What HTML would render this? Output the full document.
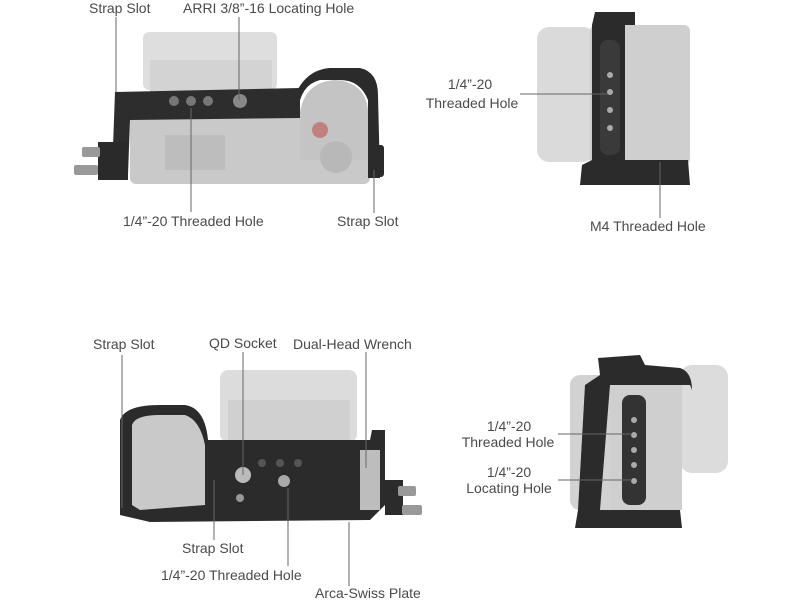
<!DOCTYPE html>
<html><head><style>
html,body{margin:0;padding:0;background:#fff;}
svg text{font-family:"Liberation Sans",sans-serif;font-size:14px;fill:#4a4a4a;}
</style></head><body>
<svg width="800" height="600" xmlns="http://www.w3.org/2000/svg">
<rect width="800" height="600" fill="#fff"/>
<!-- TOP LEFT -->
<rect x="143" y="32" width="134" height="58" rx="6" fill="#dedede"/>
<rect x="150" y="60" width="122" height="35" fill="#d3d3d3"/>
<rect x="130" y="112" width="240" height="72" rx="6" fill="#c9c9c9"/>
<path d="M290 110 Q300 70 330 68 L360 68 Q378 72 378 95 L380 178 L368 178 L368 100 Q360 80 340 80 L320 80 Q300 85 298 112 Z" fill="#2b2b2b"/>
<path d="M300 112 Q305 82 335 80 Q365 82 368 110 L368 160 L300 160Z" fill="#c4c4c4"/>
<path d="M115 92 L300 88 L300 118 L130 120 L128 175 L112 175 Z" fill="#2d2d2d"/>
<circle cx="174" cy="101" r="5" fill="#777"/><circle cx="191" cy="101" r="5" fill="#777"/><circle cx="208" cy="101" r="5" fill="#777"/><circle cx="240" cy="101" r="7" fill="#888"/>
<rect x="98" y="142" width="30" height="38" fill="#2a2a2a"/>
<rect x="82" y="147" width="18" height="10" rx="2" fill="#999"/><rect x="74" y="165" width="24" height="10" rx="2" fill="#999"/>
<rect x="165" y="135" width="60" height="35" fill="#bdbdbd"/>
<circle cx="336" cy="157" r="16" fill="#b8b8b8"/><circle cx="320" cy="130" r="8" fill="#c08080"/>
<rect x="370" y="145" width="14" height="32" rx="3" fill="#2b2b2b"/>
<!-- TOP RIGHT -->
<rect x="537" y="27" width="58" height="135" rx="12" fill="#dadada"/>
<rect x="590" y="25" width="100" height="140" rx="6" fill="#cfcfcf"/>
<path d="M595 12 L635 12 L635 25 L625 25 L625 160 L688 160 L690 185 L580 185 L582 165 L592 160 L592 25 Z" fill="#2b2b2b"/>
<rect x="600" y="40" width="20" height="115" rx="8" fill="#3a3a3a"/>
<circle cx="610" cy="75" r="3" fill="#aaa"/><circle cx="610" cy="92" r="3" fill="#aaa"/><circle cx="610" cy="110" r="3" fill="#aaa"/><circle cx="610" cy="128" r="3" fill="#aaa"/>
<!-- BOTTOM LEFT -->
<rect x="220" y="370" width="137" height="72" rx="8" fill="#dcdcdc"/>
<rect x="228" y="400" width="122" height="40" fill="#d0d0d0"/>
<path d="M120 420 Q125 405 160 405 L185 405 Q205 408 208 440 L370 440 L372 430 L385 430 L385 505 L370 520 L150 522 L120 515 Z" fill="#2b2b2b"/>
<path d="M132 425 Q135 415 160 415 L185 415 Q200 420 205 445 L205 505 L140 510 L132 505 Z" fill="#c9c9c9"/>
<rect x="360" y="450" width="20" height="60" fill="#bdbdbd"/>
<circle cx="243" cy="475" r="8" fill="#bbb"/><circle cx="284" cy="481" r="6" fill="#aaa"/><circle cx="240" cy="498" r="4" fill="#999"/>
<circle cx="262" cy="463" r="4" fill="#555"/><circle cx="280" cy="463" r="4" fill="#555"/><circle cx="298" cy="463" r="4" fill="#555"/>
<rect x="385" y="480" width="18" height="35" fill="#2b2b2b"/>
<rect x="398" y="486" width="18" height="10" rx="2" fill="#999"/><rect x="402" y="505" width="20" height="10" rx="2" fill="#999"/>
<!-- BOTTOM RIGHT -->
<rect x="570" y="375" width="50" height="135" rx="10" fill="#d2d2d2"/>
<rect x="680" y="365" width="48" height="108" rx="12" fill="#dcdcdc"/>
<path d="M598 358 L640 355 L645 365 L680 368 Q692 372 692 390 L690 385 L610 385 L600 510 L680 510 L682 528 L575 528 L578 510 L585 385 L600 375 Z" fill="#2b2b2b"/>
<rect x="610" y="385" width="72" height="125" fill="#cfcfcf"/>
<rect x="622" y="395" width="24" height="110" rx="8" fill="#333"/>
<circle cx="634" cy="420" r="3" fill="#aaa"/><circle cx="634" cy="435" r="3" fill="#aaa"/><circle cx="634" cy="450" r="3" fill="#aaa"/><circle cx="634" cy="465" r="3" fill="#aaa"/><circle cx="634" cy="481" r="3" fill="#aaa"/>
<!-- leader lines -->
<g stroke="#666" stroke-width="1" fill="none">
<line x1="116" y1="17" x2="116" y2="92"/>
<line x1="239" y1="17" x2="239" y2="100"/>
<line x1="191" y1="108" x2="191" y2="212"/>
<line x1="374" y1="170" x2="374" y2="213"/>
<line x1="520" y1="94" x2="608" y2="94"/>
<line x1="660" y1="162" x2="660" y2="218"/>
<line x1="122" y1="355" x2="122" y2="508"/>
<line x1="243" y1="352" x2="243" y2="475"/>
<line x1="366" y1="352" x2="366" y2="468"/>
<line x1="214" y1="480" x2="214" y2="540"/>
<line x1="288" y1="488" x2="288" y2="566"/>
<line x1="349" y1="522" x2="349" y2="586"/>
<line x1="558" y1="434" x2="632" y2="434"/>
<line x1="558" y1="480" x2="632" y2="480"/>
</g>
<text x="89" y="13">Strap Slot</text>
<text x="183" y="13">ARRI 3/8”-16 Locating Hole</text>
<text x="123" y="226">1/4”-20 Threaded Hole</text>
<text x="337" y="226">Strap Slot</text>
<text x="470" y="89" text-anchor="middle">1/4”-20</text>
<text x="472" y="108" text-anchor="middle">Threaded Hole</text>
<text x="590" y="231">M4 Threaded Hole</text>
<text x="93" y="349">Strap Slot</text>
<text x="209" y="348">QD Socket</text>
<text x="293" y="349">Dual-Head Wrench</text>
<text x="182" y="553">Strap Slot</text>
<text x="161" y="580">1/4”-20 Threaded Hole</text>
<text x="315" y="598">Arca-Swiss Plate</text>
<text x="509" y="431" text-anchor="middle">1/4”-20</text>
<text x="508" y="447" text-anchor="middle">Threaded Hole</text>
<text x="509" y="477" text-anchor="middle">1/4”-20</text>
<text x="509" y="493" text-anchor="middle">Locating Hole</text>
</svg>
</body></html>
